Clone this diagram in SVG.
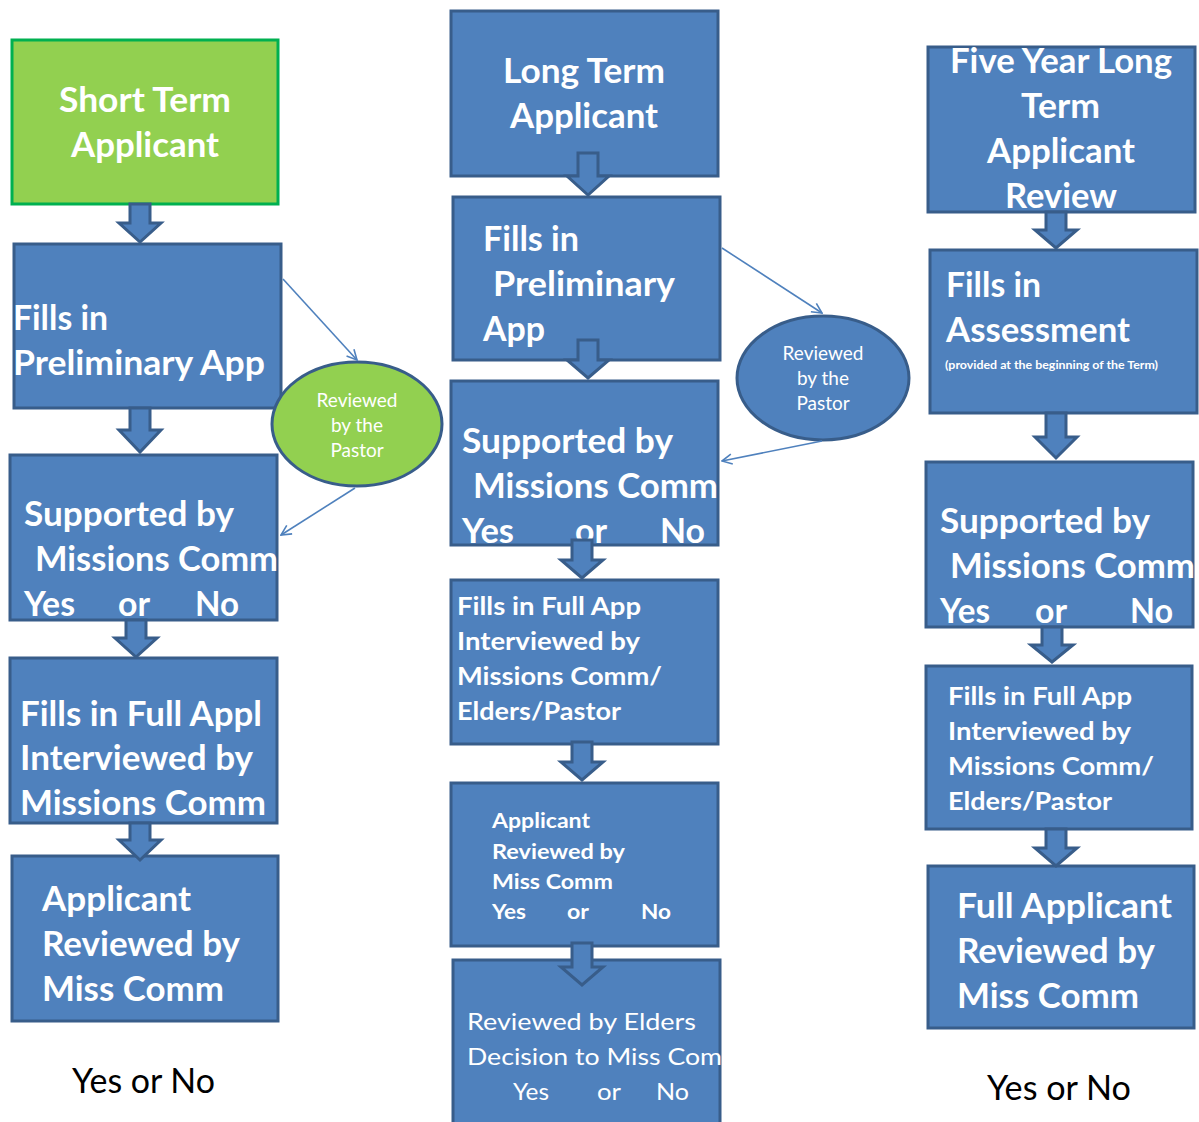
<svg xmlns="http://www.w3.org/2000/svg" width="1199" height="1122" viewBox="0 0 1199 1122">
<defs>
<style>
.box{fill:#4F81BD;stroke:#385D8A;stroke-width:3}
.gbox{fill:#92D050;stroke:#00B050;stroke-width:3}
.ell{fill:#4F81BD;stroke:#385D8A;stroke-width:3}
.gell{fill:#92D050;stroke:#385D8A;stroke-width:3}
.arr{fill:#4F81BD;stroke:#385D8A;stroke-width:3;stroke-linejoin:miter}
.con{fill:none;stroke:#4F81BD;stroke-width:1.6}
text{font-family:Lato,"Liberation Sans",sans-serif;fill:#FFFFFF}
.b34{font-size:34px;font-weight:bold}
.b26{font-size:25px;font-weight:bold}
.b22{font-size:21px;font-weight:bold}
.n24{font-size:24px}
.e{font-size:19px}
.s{font-size:10.5px;font-weight:bold}
.k{fill:#000000;font-size:34px}
</style>
<marker id="open" viewBox="0 0 12 12" refX="11" refY="6" markerWidth="12" markerHeight="12" markerUnits="userSpaceOnUse" orient="auto">
<path d="M1,1 L11,6 L1,11" fill="none" stroke="#4F81BD" stroke-width="1.6"/>
</marker>
</defs>

<!-- Column 1 -->
<g id="short-term-applicant">
<rect class="gbox" x="12" y="40" width="266" height="164"/>
<text class="b34" x="59" y="112" textLength="172" lengthAdjust="spacingAndGlyphs">Short Term</text>
<text class="b34" x="71" y="157" textLength="148" lengthAdjust="spacingAndGlyphs">Applicant</text>
</g>
<g id="c1-prelim">
<rect class="box" x="14" y="244" width="267" height="164"/>
<text class="b34" x="13" y="330" textLength="95" lengthAdjust="spacingAndGlyphs">Fills in</text>
<text class="b34" x="13" y="375" textLength="252" lengthAdjust="spacingAndGlyphs">Preliminary App</text>
</g>
<g id="c1-supported">
<rect class="box" x="10" y="455" width="267" height="165"/>
<text class="b34" x="24" y="526" textLength="210" lengthAdjust="spacingAndGlyphs">Supported by</text>
<text class="b34" x="35" y="571" textLength="243" lengthAdjust="spacingAndGlyphs">Missions Comm</text>
<text class="b34" x="24" y="616" textLength="51" lengthAdjust="spacingAndGlyphs">Yes</text>
<text class="b34" x="118" y="616" textLength="32" lengthAdjust="spacingAndGlyphs">or</text>
<text class="b34" x="195" y="616" textLength="44" lengthAdjust="spacingAndGlyphs">No</text>
</g>
<g id="c1-full">
<rect class="box" x="10" y="658" width="267" height="165"/>
<text class="b34" x="20" y="726" textLength="242" lengthAdjust="spacingAndGlyphs">Fills in Full Appl</text>
<text class="b34" x="20" y="770" textLength="233" lengthAdjust="spacingAndGlyphs">Interviewed by</text>
<text class="b34" x="20" y="815" textLength="246" lengthAdjust="spacingAndGlyphs">Missions Comm</text>
</g>
<g id="c1-reviewed">
<rect class="box" x="12" y="856" width="266" height="165"/>
<text class="b34" x="42" y="911" textLength="149" lengthAdjust="spacingAndGlyphs">Applicant</text>
<text class="b34" x="42" y="956" textLength="198" lengthAdjust="spacingAndGlyphs">Reviewed by</text>
<text class="b34" x="42" y="1001" textLength="182" lengthAdjust="spacingAndGlyphs">Miss Comm</text>
</g>
<g id="c1-pastor">
<ellipse class="gell" cx="357" cy="424" rx="85" ry="62"/>
<text class="e" x="357" y="407" text-anchor="middle">Reviewed</text>
<text class="e" x="357" y="432" text-anchor="middle">by the</text>
<text class="e" x="357" y="457" text-anchor="middle">Pastor</text>
</g>
<text id="c1-result" class="k" x="72" y="1093" textLength="143" lengthAdjust="spacingAndGlyphs">Yes or No</text>

<!-- Column 2 -->
<g id="long-term-applicant">
<rect class="box" x="451" y="11" width="267" height="165"/>
<text class="b34" x="503" y="83" textLength="162" lengthAdjust="spacingAndGlyphs">Long Term</text>
<text class="b34" x="510" y="128" textLength="148" lengthAdjust="spacingAndGlyphs">Applicant</text>
</g>
<g id="c2-prelim">
<rect class="box" x="453" y="197" width="267" height="163"/>
<text class="b34" x="483" y="251" textLength="96" lengthAdjust="spacingAndGlyphs">Fills in</text>
<text class="b34" x="493" y="296" textLength="182" lengthAdjust="spacingAndGlyphs">Preliminary</text>
<text class="b34" x="483" y="341" textLength="62" lengthAdjust="spacingAndGlyphs">App</text>
</g>
<g id="c2-supported">
<rect class="box" x="451" y="381" width="267" height="164"/>
<text class="b34" x="462" y="453" textLength="211" lengthAdjust="spacingAndGlyphs">Supported by</text>
<text class="b34" x="473" y="498" textLength="245" lengthAdjust="spacingAndGlyphs">Missions Comm</text>
<text class="b34" x="462" y="543" textLength="52" lengthAdjust="spacingAndGlyphs">Yes</text>
<text class="b34" x="575" y="543" textLength="32" lengthAdjust="spacingAndGlyphs">or</text>
<text class="b34" x="660" y="543" textLength="45" lengthAdjust="spacingAndGlyphs">No</text>
</g>
<g id="c2-full">
<rect class="box" x="451" y="580" width="267" height="164"/>
<text class="b26" x="457" y="615" textLength="184" lengthAdjust="spacingAndGlyphs">Fills in Full App</text>
<text class="b26" x="457" y="650" textLength="183" lengthAdjust="spacingAndGlyphs">Interviewed by</text>
<text class="b26" x="457" y="685" textLength="205" lengthAdjust="spacingAndGlyphs">Missions Comm/</text>
<text class="b26" x="457" y="720" textLength="164" lengthAdjust="spacingAndGlyphs">Elders/Pastor</text>
</g>
<g id="c2-reviewed">
<rect class="box" x="451" y="783" width="267" height="163"/>
<text class="b22" x="492" y="828" textLength="98" lengthAdjust="spacingAndGlyphs">Applicant</text>
<text class="b22" x="492" y="859" textLength="133" lengthAdjust="spacingAndGlyphs">Reviewed by</text>
<text class="b22" x="492" y="889" textLength="121" lengthAdjust="spacingAndGlyphs">Miss Comm</text>
<text class="b22" x="492" y="919" textLength="34" lengthAdjust="spacingAndGlyphs">Yes</text>
<text class="b22" x="567" y="919" textLength="22" lengthAdjust="spacingAndGlyphs">or</text>
<text class="b22" x="641" y="919" textLength="30" lengthAdjust="spacingAndGlyphs">No</text>
</g>
<g id="c2-elders">
<rect class="box" x="453" y="960" width="267" height="175"/>
<text class="n24" x="467" y="1030" textLength="229" lengthAdjust="spacingAndGlyphs">Reviewed by Elders</text>
<text class="n24" x="467" y="1065" textLength="255" lengthAdjust="spacingAndGlyphs">Decision to Miss Com</text>
<text class="n24" x="513" y="1100" textLength="36" lengthAdjust="spacingAndGlyphs">Yes</text>
<text class="n24" x="597" y="1100" textLength="24" lengthAdjust="spacingAndGlyphs">or</text>
<text class="n24" x="656" y="1100" textLength="33" lengthAdjust="spacingAndGlyphs">No</text>
</g>
<g id="c2-pastor">
<ellipse class="ell" cx="823" cy="378" rx="86" ry="62"/>
<text class="e" x="823" y="360" text-anchor="middle">Reviewed</text>
<text class="e" x="823" y="385" text-anchor="middle">by the</text>
<text class="e" x="823" y="410" text-anchor="middle">Pastor</text>
</g>

<!-- Column 3 -->
<g id="five-year-review">
<rect class="box" x="928" y="47" width="267" height="165"/>
<text class="b34" x="950" y="73" textLength="222" lengthAdjust="spacingAndGlyphs">Five Year Long</text>
<text class="b34" x="1021" y="118" textLength="79" lengthAdjust="spacingAndGlyphs">Term</text>
<text class="b34" x="987" y="163" textLength="148" lengthAdjust="spacingAndGlyphs">Applicant</text>
<text class="b34" x="1005" y="208" textLength="112" lengthAdjust="spacingAndGlyphs">Review</text>
</g>
<g id="c3-assessment">
<rect class="box" x="930" y="250" width="267" height="163"/>
<text class="b34" x="946" y="297" textLength="95" lengthAdjust="spacingAndGlyphs">Fills in</text>
<text class="b34" x="946" y="342" textLength="184" lengthAdjust="spacingAndGlyphs">Assessment</text>
<text class="s" x="945" y="369" textLength="213" lengthAdjust="spacingAndGlyphs">(provided at the beginning of the Term)</text>
</g>
<g id="c3-supported">
<rect class="box" x="926" y="462" width="267" height="165"/>
<text class="b34" x="940" y="533" textLength="210" lengthAdjust="spacingAndGlyphs">Supported by</text>
<text class="b34" x="950" y="578" textLength="245" lengthAdjust="spacingAndGlyphs">Missions Comm</text>
<text class="b34" x="940" y="623" textLength="50" lengthAdjust="spacingAndGlyphs">Yes</text>
<text class="b34" x="1035" y="623" textLength="32" lengthAdjust="spacingAndGlyphs">or</text>
<text class="b34" x="1130" y="623" textLength="43" lengthAdjust="spacingAndGlyphs">No</text>
</g>
<g id="c3-full">
<rect class="box" x="926" y="666" width="266" height="163"/>
<text class="b26" x="948" y="705" textLength="184" lengthAdjust="spacingAndGlyphs">Fills in Full App</text>
<text class="b26" x="948" y="740" textLength="183" lengthAdjust="spacingAndGlyphs">Interviewed by</text>
<text class="b26" x="948" y="775" textLength="206" lengthAdjust="spacingAndGlyphs">Missions Comm/</text>
<text class="b26" x="948" y="810" textLength="164" lengthAdjust="spacingAndGlyphs">Elders/Pastor</text>
</g>
<g id="c3-reviewed">
<rect class="box" x="928" y="866" width="266" height="162"/>
<text class="b34" x="957" y="918" textLength="215" lengthAdjust="spacingAndGlyphs">Full Applicant</text>
<text class="b34" x="957" y="963" textLength="198" lengthAdjust="spacingAndGlyphs">Reviewed by</text>
<text class="b34" x="957" y="1008" textLength="182" lengthAdjust="spacingAndGlyphs">Miss Comm</text>
</g>
<text id="c3-result" class="k" x="987" y="1100" textLength="144" lengthAdjust="spacingAndGlyphs">Yes or No</text>

<!-- Connectors -->
<g id="connectors">
<path class="arr" d="M130,204 H150 V223 H161 L140,242 L119,223 H130 Z"/>
<path class="arr" d="M130,408 H150 V430 H161 L140,452 L119,430 H130 Z"/>
<path class="arr" d="M126,620 H146 V638 H157 L136,657 L115,638 H126 Z"/>
<path class="arr" d="M130,823 H150 V840 H161 L140,860 L119,840 H130 Z"/>
<path class="arr" d="M578,153 H598 V176 H609 L588,195 L567,176 H578 Z"/>
<path class="arr" d="M578,340 H598 V360 H609 L588,378 L567,360 H578 Z"/>
<path class="arr" d="M572,540 H592 V560 H603 L582,578 L561,560 H572 Z"/>
<path class="arr" d="M572,742 H592 V762 H603 L582,780 L561,762 H572 Z"/>
<path class="arr" d="M572,943 H592 V967 H603 L582,985 L561,967 H572 Z"/>
<path class="arr" d="M1046,212 H1066 V230 H1077 L1056,248 L1035,230 H1046 Z"/>
<path class="arr" d="M1046,413 H1066 V437 H1077 L1056,458 L1035,437 H1046 Z"/>
<path class="arr" d="M1042,627 H1062 V645 H1073 L1052,662 L1031,645 H1042 Z"/>
<path class="arr" d="M1046,829 H1066 V848 H1077 L1056,866 L1035,848 H1046 Z"/>
<line class="con" x1="283" y1="279" x2="357" y2="360" marker-end="url(#open)"/>
<line class="con" x1="355" y1="488" x2="281" y2="535" marker-end="url(#open)"/>
<line class="con" x1="722" y1="248" x2="822" y2="313" marker-end="url(#open)"/>
<line class="con" x1="822" y1="441" x2="722" y2="461" marker-end="url(#open)"/>
</g>
</svg>
